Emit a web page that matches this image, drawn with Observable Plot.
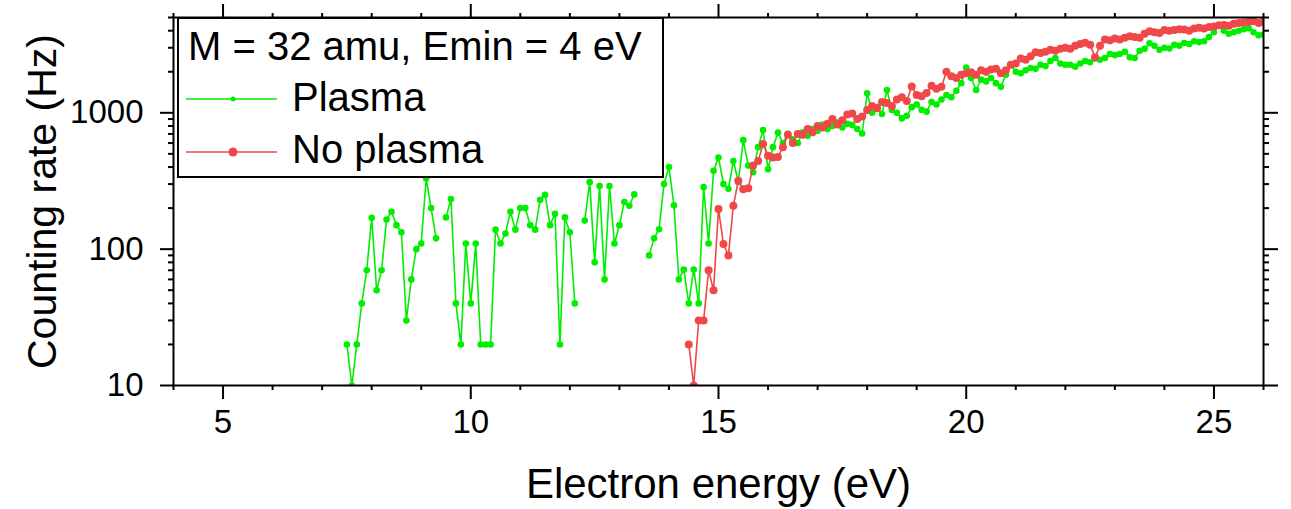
<!DOCTYPE html>
<html><head><meta charset="utf-8">
<script src="https://cdn.jsdelivr.net/npm/d3@7"></script>
<script src="https://cdn.jsdelivr.net/npm/@observablehq/plot@0.6"></script>
<style>body{margin:0;background:#fff;} svg{display:block}</style>
</head><body><div id="chart"></div>
<script>
// Electron energy (eV), counting rate (Hz); null = no count (gap)
const plasma = [
[7.5,20],[7.6,10],[7.7,20],[7.8,40],[7.9,70],[8.0,170],[8.1,50],[8.2,70],[8.3,165],[8.4,188],
[8.5,150],[8.6,133],[8.7,30],[8.8,60],[8.9,100],[9.0,110],[9.1,330],[9.2,200],[9.3,120],[9.4,null],
[9.5,171],[9.6,233],[9.7,40],[9.8,20],[9.9,110],[10.0,40],[10.1,110],[10.2,20],[10.3,20],[10.4,20],
[10.5,139],[10.6,110],[10.7,130],[10.8,188],[10.9,139],[11.0,200],[11.1,200],[11.2,150],[11.3,139],[11.4,230],
[11.5,250],[11.6,150],[11.7,182],[11.8,20],[11.9,171],[12.0,133],[12.1,40],[12.2,null],[12.3,162],[12.4,310],
[12.5,80],[12.6,290],[12.7,60],[12.8,290],[12.9,110],[13.0,150],[13.1,222],[13.2,208],[13.3,252],[13.4,null],
[13.5,null],[13.6,90],[13.7,120],[13.8,140],[13.9,300],[14.0,400],[14.1,210],[14.2,60],[14.3,71],[14.4,40],
[14.5,71],[14.6,40],[14.7,285],[14.8,110],[14.9,376],[15.0,470],[15.1,300],[15.2,277],[15.3,443],[15.4,310],
[15.5,630],[15.6,410],[15.7,366],[15.8,560],[15.9,748],[16.0,385],[16.1,560],[16.2,715],[16.3,600],[16.4,700],
[16.5,640],[16.6,600],[16.7,720],[16.8,680],[16.9,760],[17.0,740],[17.1,820],[17.2,760],[17.3,800],[17.4,850],
[17.5,780],[17.6,830],[17.7,815],[17.8,760],[17.9,705],[18.0,1390],[18.1,1000],[18.2,1100],[18.3,980],[18.4,1470],
[18.5,1050],[18.6,1000],[18.7,910],[18.8,950],[18.9,1100],[19.0,1150],[19.1,1050],[19.2,1020],[19.3,1200],[19.4,1150],
[19.5,1250],[19.6,1350],[19.7,1300],[19.8,1450],[19.9,1650],[20.0,2150],[20.1,1800],[20.2,1470],[20.3,1750],[20.4,1700],
[20.5,1800],[20.6,1650],[20.7,1550],[20.8,1900],[20.9,2250],[21.0,2000],[21.1,1950],[21.2,2050],[21.3,2130],[21.4,2100],
[21.5,2250],[21.6,2200],[21.7,2400],[21.8,2520],[21.9,2300],[22.0,2250],[22.1,2250],[22.2,2180],[22.3,2300],[22.4,2400],
[22.5,2350],[22.6,2500],[22.7,2450],[22.8,2520],[22.9,2700],[23.0,2650],[23.1,2700],[23.2,2800],[23.3,2550],[23.4,2520],
[23.5,2850],[23.6,2950],[23.7,3240],[23.8,3100],[23.9,2900],[24.0,3000],[24.1,2960],[24.2,3150],[24.3,3100],[24.4,3250],
[24.5,3200],[24.6,3350],[24.7,3300],[24.8,3350],[24.9,3600],[25.0,3900],[25.1,4380],[25.2,4000],[25.3,3800],[25.4,3900],
[25.5,4000],[25.6,4100],[25.7,4170],[25.8,3900],[25.9,3700],[26.0,3750]
];
const noPlasma = [
[14.4,20],[14.5,10],[14.6,30],[14.7,30],[14.8,70],[14.9,50],[15.0,197],[15.1,109],[15.2,90],[15.3,208],
[15.4,318],[15.5,275],[15.6,280],[15.7,410],[15.8,443],[15.9,590],[16.0,485],[16.1,470],[16.2,475],[16.3,560],
[16.4,690],[16.5,600],[16.6,700],[16.7,690],[16.8,760],[16.9,720],[17.0,800],[17.1,780],[17.2,830],[17.3,900],
[17.4,820],[17.5,880],[17.6,970],[17.7,990],[17.8,900],[17.9,940],[18.0,1050],[18.1,1120],[18.2,1080],[18.3,1200],
[18.4,1180],[18.5,1120],[18.6,1250],[18.7,1300],[18.8,1220],[18.9,1560],[19.0,1350],[19.1,1320],[19.2,1400],[19.3,1580],
[19.4,1500],[19.5,1550],[19.6,2000],[19.7,1850],[19.8,1800],[19.9,1900],[20.0,1950],[20.1,1980],[20.2,1900],[20.3,2050],
[20.4,2000],[20.5,2080],[20.6,2100],[20.7,1950],[20.8,2050],[20.9,2250],[21.0,2300],[21.1,2500],[21.2,2450],[21.3,2600],
[21.4,2780],[21.5,2750],[21.6,2800],[21.7,2900],[21.8,2850],[21.9,2950],[22.0,3000],[22.1,2950],[22.2,3100],[22.3,3200],
[22.4,3270],[22.5,3150],[22.6,2550],[22.7,3100],[22.8,3450],[22.9,3400],[23.0,3500],[23.1,3450],[23.2,3550],[23.3,3650],
[23.4,3600],[23.5,3550],[23.6,3800],[23.7,3970],[23.8,3900],[23.9,3850],[24.0,4040],[24.1,4000],[24.2,4050],[24.3,4100],
[24.4,4090],[24.5,4000],[24.6,4150],[24.7,4200],[24.8,4150],[24.9,4250],[25.0,4300],[25.1,4380],[25.2,4400],[25.3,4350],
[25.4,4500],[25.5,4550],[25.6,4600],[25.7,4640],[25.8,4700],[25.9,4550],[26.0,4650]
];
const xMajorTicks = [5, 10, 15, 20, 25];
const xMinorTicks = [4, 6, 7, 8, 9, 11, 12, 13, 14, 16, 17, 18, 19, 21, 22, 23, 24, 26];
const yMajorTicks = [10, 100, 1000];
const yMinorTicks = [20, 30, 40, 50, 60, 70, 80, 90, 200, 300, 400, 500, 600, 700, 800, 900, 2000, 3000, 4000, 5000];
const seriesNames = ["Plasma", "No plasma"];
const legendTitle = "M = 32 amu, Emin = 4 eV";
const xTitle = "Electron energy (eV)";
const yTitle = "Counting rate (Hz)";

const GREEN = "#00ee00", RED = "#f04848";
const FONT = "'Liberation Sans', Arial, sans-serif";
const X = d => d[0], Y = d => d[1];

const chart = Plot.plot({
  width: 1291, height: 509,
  marginLeft: 173, marginRight: 28, marginTop: 17, marginBottom: 124,
  style: {fontFamily: FONT, background: "white", color: "black", overflow: "visible"},
  x: {domain: [4, 26], label: null},
  y: {type: "log", domain: [10, 5000], label: null},
  marks: [
    Plot.line(plasma, {x: X, y: Y, stroke: GREEN, strokeWidth: 1.6, clip: true}),
    Plot.dot(plasma, {x: X, y: Y, r: 3.3, fill: GREEN, stroke: "none", clip: true}),
    Plot.line(noPlasma, {x: X, y: Y, stroke: RED, strokeWidth: 1.6, clip: true}),
    Plot.dot(noPlasma, {x: X, y: Y, r: 4, fill: RED, stroke: "none", clip: true}),
    Plot.axisX({anchor: "bottom", ticks: xMajorTicks, tickSize: 14, tickPadding: 10, fontSize: 33, strokeWidth: 2, label: null, tickFormat: d => String(d)}),
    Plot.axisX({anchor: "bottom", ticks: xMinorTicks, tickSize: 5, strokeWidth: 2, fill: "none", label: null}),
    Plot.axisX({anchor: "top", ticks: xMajorTicks, tickSize: 14, strokeWidth: 2, fill: "none", label: null}),
    Plot.axisX({anchor: "top", ticks: xMinorTicks, tickSize: 5, strokeWidth: 2, fill: "none", label: null}),
    Plot.axisY({anchor: "left", ticks: yMajorTicks, tickSize: 13, tickPadding: 17, fontSize: 33, strokeWidth: 2, label: null, tickFormat: d => String(d)}),
    Plot.axisY({anchor: "left", ticks: yMinorTicks, tickSize: 5, strokeWidth: 2, fill: "none", label: null}),
    Plot.axisY({anchor: "right", ticks: yMajorTicks, tickSize: 14, strokeWidth: 2, fill: "none", label: null}),
    Plot.axisY({anchor: "right", ticks: yMinorTicks, tickSize: 5, strokeWidth: 2, fill: "none", label: null}),
    Plot.frame({stroke: "black", strokeWidth: 2}),
    Plot.text([xTitle], {frameAnchor: "bottom", textAnchor: "middle", dy: 112, fontSize: 42, fill: "black"}),
    Plot.text([yTitle], {frameAnchor: "left", textAnchor: "middle", dx: -131, rotate: -90, fontSize: 41, fill: "black"})
  ]
});
document.getElementById("chart").appendChild(chart);

// Legend box (opaque, over the data, as in the original)
const svg = d3.select(chart);
const lg = svg.append("g").attr("font-family", FONT).attr("font-size", 40)
  .attr("fill", "black").attr("text-anchor", "start");
lg.append("rect").attr("x", 178).attr("y", 18).attr("width", 485).attr("height", 159)
  .attr("fill", "white").attr("stroke", "black").attr("stroke-width", 2);
lg.append("text").attr("x", 188).attr("y", 60).attr("text-anchor", "start").text(legendTitle);
const rows = [{name: seriesNames[0], color: GREEN, r: 2.5, y: 99, ty: 111},
              {name: seriesNames[1], color: RED, r: 4.5, y: 152, ty: 163}];
for (const row of rows) {
  lg.append("line").attr("x1", 186).attr("x2", 277).attr("y1", row.y).attr("y2", row.y)
    .attr("stroke", row.color).attr("stroke-width", 1.6);
  lg.append("circle").attr("cx", 233).attr("cy", row.y).attr("r", row.r).attr("fill", row.color);
  lg.append("text").attr("x", 292).attr("y", row.ty).attr("text-anchor", "start").text(row.name);
}
</script>
</body></html>
